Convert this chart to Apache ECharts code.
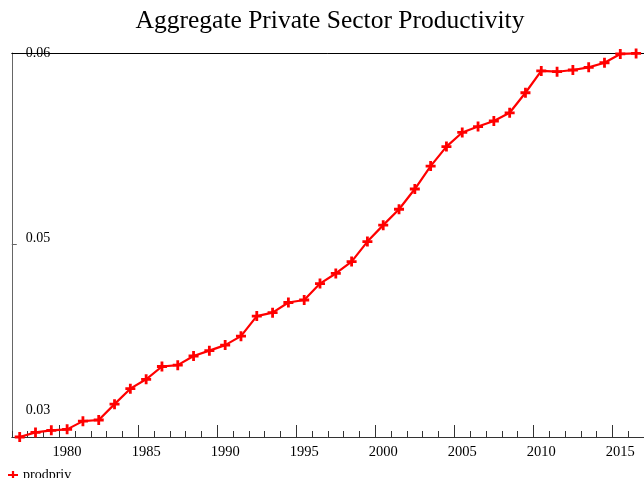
<!DOCTYPE html>
<html>
<head>
<meta charset="utf-8">
<script src="https://cdn.jsdelivr.net/npm/echarts@6/dist/echarts.min.js"></script>
<style>html,body{margin:0;padding:0;background:#fff}#c{width:644px;height:478px}</style>
</head>
<body>
<div id="c"></div>
<script>
const years = ['1977','1978','1979','1980','1981','1982','1983','1984','1985','1986','1987','1988','1989','1990','1991','1992','1993','1994','1995','1996','1997','1998','1999','2000','2001','2002','2003','2004','2005','2006','2007','2008','2009','2010','2011','2012','2013','2014','2015','2016'];
const prodpriv = [0.03990,0.04014,0.04025,0.04030,0.04073,0.04079,0.04162,0.04243,0.04292,0.04359,0.04366,0.04414,0.04442,0.04471,0.04518,0.04623,0.04641,0.04694,0.04707,0.04793,0.04846,0.04908,0.05013,0.05099,0.05182,0.05288,0.05408,0.05510,0.05584,0.05615,0.05644,0.05687,0.05792,0.05906,0.05902,0.05911,0.05925,0.05949,0.05995,0.05998];
const yMin = 0.0399;
const yMax = 0.06;
const yLabelValues = [0.06, 0.05, 0.0399];
const yLabelTexts = ['0.06', '0.05', '0.03'];
const yTickValues = [0.05];
const seriesName = 'prodpriv';
const titleText = 'Aggregate Private Sector Productivity';

const FONT = "'Liberation Serif','Times New Roman',serif";
const chart = echarts.init(document.getElementById('c'), null, {renderer: 'canvas'});
const plus = 'path://M3.6,0h2.8v3.6h3.6v2.8h-3.6v3.6h-2.8v-3.6h-3.6v-2.8h3.6z';
const richStyles = ['t', 'm', 'b'];
chart.setOption({
  animation: false,
  backgroundColor: '#fff',
  title: {
    text: titleText, left: 330, top: 8, textAlign: 'center', padding: 0,
    textStyle: {fontFamily: FONT, fontSize: 25.5, fontWeight: 'normal', color: '#000'}
  },
  legend: {
    data: [seriesName], left: 7, top: 468, padding: 0, itemWidth: 10, itemHeight: 10,
    textStyle: {fontFamily: FONT, fontSize: 14, color: '#000'}
  },
  grid: {left: 11.8, right: -5.4, top: 53, bottom: 41, containLabel: false},
  xAxis: [
    {
      type: 'category', data: years, position: 'bottom', boundaryGap: true,
      axisLine: {show: true, lineStyle: {color: '#333', width: 1}},
      axisTick: {show: true, inside: true, length: 6, interval: 0, lineStyle: {color: '#333'}},
      axisLabel: {show: true, interval: (i, v) => (+v) % 5 === 0, margin: 8,
        fontFamily: FONT, fontSize: 14.5, color: '#000'},
      splitLine: {show: false}
    },
    {
      type: 'category', data: years, position: 'bottom', boundaryGap: true,
      axisLine: {show: false},
      axisTick: {show: true, inside: true, length: 12, interval: (i, v) => (+v) % 5 === 0, lineStyle: {color: '#333'}},
      axisLabel: {show: false}, splitLine: {show: false}
    },
    {
      type: 'category', data: years, position: 'top', boundaryGap: true,
      axisLine: {show: true, lineStyle: {color: '#000', width: 1}},
      axisTick: {show: false}, axisLabel: {show: false}, splitLine: {show: false}
    }
  ],
  yAxis: {
    type: 'value', min: yMin, max: yMax, position: 'left',
    axisLine: {show: true, lineStyle: {color: '#666', width: 1}},
    axisTick: {show: true, inside: true, length: 5, customValues: yTickValues, lineStyle: {color: '#666'}},
    axisLabel: {
      show: true, inside: true, margin: 14, customValues: yLabelValues,
      formatter: function (v) {
        let k = 0, best = Infinity;
        yLabelValues.forEach((lv, i) => { const d = Math.abs(lv - v); if (d < best) { best = d; k = i; } });
        return '{' + richStyles[k] + '|' + yLabelTexts[k] + '}';
      },
      rich: {
        t: {fontFamily: FONT, fontSize: 14, color: '#000'},
        m: {fontFamily: FONT, fontSize: 14, color: '#000', padding: [0, 0, 12, 0]},
        b: {fontFamily: FONT, fontSize: 14, color: '#000', padding: [0, 0, 54, 0]}
      }
    },
    splitLine: {show: false}
  },
  series: [{
    name: seriesName, type: 'line', xAxisIndex: 0, data: prodpriv,
    symbol: plus, symbolSize: 10, showAllSymbol: true,
    lineStyle: {color: '#ff0000', width: 2.2},
    itemStyle: {color: '#ff0000'},
    emphasis: {disabled: true}
  }]
});
</script>
</body>
</html>
